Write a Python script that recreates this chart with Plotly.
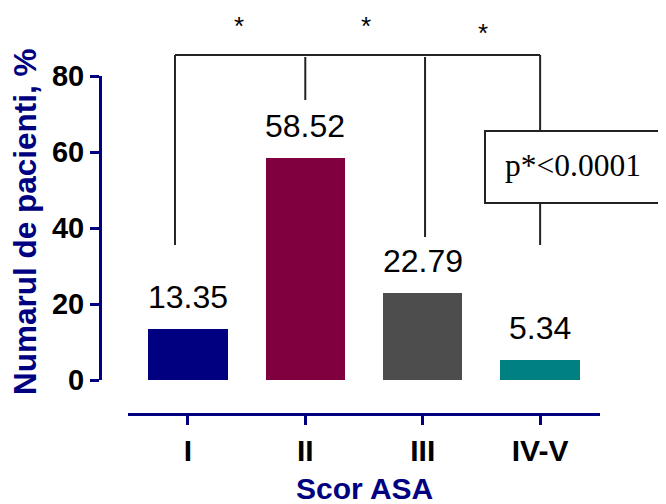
import plotly.graph_objects as go

categories = ["I", "II", "III", "IV-V"]
values = [13.35, 58.52, 22.79, 5.34]
value_labels = ["13.35", "58.52", "22.79", "5.34"]
bar_colors = ["#000080", "#80003f", "#4d4d4d", "#008080"]
y_ticks = [0, 20, 40, 60, 80]
x_title = "Scor ASA"
y_title = "Numarul de pacienti, %"
p_text = "p*<0.0001"
star = "*"

W, H = 666, 504
OFF = 8  # page body margin
NAVY = "#000080"
LINE = "#222222"
SANS = "Arial, Liberation Sans, sans-serif"
SERIF = "Times New Roman, Liberation Serif, serif"


def px(x):
    return (x - OFF) / W


def py(y):
    return 1 - (y - OFF) / H


fig = go.Figure()
fig.add_trace(go.Bar(
    x=list(range(len(categories))), y=values,
    marker=dict(color=bar_colors, line=dict(width=0)),
    width=0.675, hoverinfo="skip", showlegend=False,
))

annotations = []
for i, (v, t) in enumerate(zip(values, value_labels)):
    annotations.append(dict(x=i, y=v, xref="x", yref="y", text=t, showarrow=False,
                            yanchor="middle", yshift=32,
                            font=dict(family=SANS, size=32, color="black")))

# axis titles
annotations.append(dict(x=px(25), y=py(222), xref="paper", yref="paper", text="<b>" + y_title + "</b>",
                        textangle=-90, showarrow=False, xanchor="center", yanchor="middle",
                        font=dict(family=SANS, size=31.5, color=NAVY)))
annotations.append(dict(x=px(364), y=py(488), xref="paper", yref="paper", text="<b>" + x_title + "</b>",
                        showarrow=False, xanchor="center", yanchor="middle",
                        font=dict(family=SANS, size=30, color=NAVY)))

# stars
for sx, sy in [(239, 26), (366, 26), (483, 33)]:
    annotations.append(dict(x=px(sx), y=py(sy), xref="paper", yref="paper", text=star,
                            showarrow=False, xanchor="center", yanchor="middle",
                            font=dict(family=SANS, size=26, color="black")))

# p-value text
annotations.append(dict(x=px(573), y=py(165), xref="paper", yref="paper", text=p_text,
                        showarrow=False, xanchor="center", yanchor="middle",
                        font=dict(family=SERIF, size=31.5, color="black")))

shapes = []
lw = 2
# bracket horizontal
shapes.append(dict(type="line", xref="x", yref="paper", x0=-0.11, x1=3, y0=py(55), y1=py(55),
                   line=dict(color=LINE, width=lw)))
# verticals
for xv, y0, y1 in [(-0.11, 55, 245), (1, 57, 100), (2.02, 57, 237), (3, 55, 131), (3, 203, 245)]:
    shapes.append(dict(type="line", xref="x", yref="paper", x0=xv, x1=xv, y0=py(y0), y1=py(y1),
                       line=dict(color=LINE, width=lw)))
# p box
shapes.append(dict(type="rect", xref="paper", yref="paper", x0=px(485), x1=px(663),
                   y0=py(203), y1=py(131), line=dict(color=LINE, width=lw), fillcolor="white"))

fig.update_layout(
    width=W, height=H, autosize=False,
    margin=dict(l=0, r=0, t=0, b=0, autoexpand=False),
    paper_bgcolor="white", plot_bgcolor="white",
    bargap=0,
    xaxis=dict(domain=[px(128), px(600)], range=[-0.51, 3.51], anchor="free", position=py(414),
               automargin=False,
               tickmode="array", tickvals=list(range(len(categories))), ticktext=["<b>" + c + "</b>" for c in categories],
               showline=True, linecolor=NAVY, linewidth=3, ticks="outside", ticklen=9, tickwidth=3,
               tickcolor=NAVY, showgrid=False, zeroline=False,
               tickfont=dict(family=SANS, size=30, color="black"), fixedrange=True),
    yaxis=dict(domain=[py(380), py(76)], range=[0, 80], anchor="free", position=px(100),
               automargin=False,
               tickmode="array", tickvals=y_ticks, ticktext=["<b>%d</b>" % t for t in y_ticks],
               showline=True, linecolor=NAVY, linewidth=3, ticks="outside", ticklen=9, tickwidth=3,
               tickcolor=NAVY, showgrid=False, zeroline=False,
               tickfont=dict(family=SANS, size=29, color="black"), fixedrange=True),
    annotations=annotations,
    shapes=shapes,
)

fig.write_html("out.html")
